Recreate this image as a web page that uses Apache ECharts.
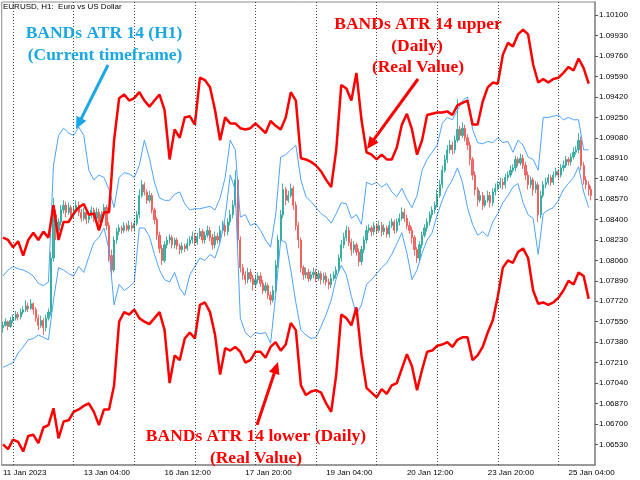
<!DOCTYPE html>
<html><head><meta charset="utf-8">
<script src="https://cdn.jsdelivr.net/npm/echarts@6/dist/echarts.min.js"></script>
<style>html,body{margin:0;padding:0;background:#fff}#c{width:640px;height:480px}</style>
</head><body><div id="c"></div>
<script>
// ---- time axis ----
const tradingDays = ['11 Jan','12 Jan','13 Jan','16 Jan','17 Jan','18 Jan','19 Jan','20 Jan','23 Jan','24 Jan','25 Jan'];
const firstHour = 20;
const barCount = 235;
const xTickLabels = ['11 Jan 2023','13 Jan 04:00','16 Jan 12:00','17 Jan 20:00','19 Jan 04:00','20 Jan 12:00','23 Jan 20:00','25 Jan 04:00'];
const xTickEvery = 32;
// ---- price axis ----
const yMin = 1.06358, yMax = 1.10210;
const yTicks = [1.06530,1.06700,1.06870,1.07040,1.07210,1.07380,1.07550,1.07720,1.07890,1.08060,1.08230,1.08400,1.08570,1.08740,1.08910,1.09080,1.09250,1.09420,1.09590,1.09760,1.09930,1.10100];
// ---- H1 candles [open, close, low, high] ----
const candles = [
[1.0750,1.0752,1.0746,1.0755],[1.0752,1.0755,1.0751,1.0758],[1.0755,1.0751,1.0748,1.0756],[1.0751,1.0756,1.0750,1.0759],
[1.0756,1.0758,1.0754,1.0761],[1.0758,1.0761,1.0756,1.0764],[1.0761,1.0759,1.0756,1.0763],[1.0759,1.0763,1.0757,1.0766],
[1.0763,1.0765,1.0761,1.0768],[1.0765,1.0768,1.0763,1.0773],[1.0768,1.0766,1.0763,1.0771],[1.0766,1.0770,1.0765,1.0774],
[1.0770,1.0765,1.0761,1.0771],[1.0765,1.0758,1.0755,1.0767],[1.0758,1.0752,1.0748,1.0761],[1.0752,1.0756,1.0750,1.0760],
[1.0756,1.0750,1.0744,1.0758],[1.0750,1.0758,1.0747,1.0761],[1.0758,1.0763,1.0756,1.0766],[1.0763,1.0808,1.0760,1.0813],
[1.0808,1.0844,1.0805,1.0858],[1.0844,1.0831,1.0823,1.0848],[1.0831,1.0838,1.0827,1.0841],[1.0838,1.0848,1.0835,1.0852],
[1.0848,1.0852,1.0845,1.0856],[1.0852,1.0846,1.0842,1.0855],[1.0846,1.0850,1.0844,1.0854],[1.0850,1.0844,1.0840,1.0852],
[1.0844,1.0848,1.0841,1.0851],[1.0848,1.0852,1.0845,1.0856],[1.0852,1.0846,1.0843,1.0855],[1.0846,1.0841,1.0838,1.0849],
[1.0841,1.0846,1.0839,1.0850],[1.0846,1.0840,1.0836,1.0849],[1.0840,1.0844,1.0837,1.0847],[1.0844,1.0848,1.0841,1.0851],
[1.0848,1.0841,1.0838,1.0850],[1.0841,1.0846,1.0839,1.0850],[1.0846,1.0838,1.0835,1.0849],[1.0838,1.0844,1.0835,1.0847],
[1.0844,1.0850,1.0841,1.0853],[1.0850,1.0835,1.0831,1.0852],[1.0835,1.0810,1.0805,1.0838],[1.0810,1.0798,1.0792,1.0815],
[1.0798,1.0823,1.0796,1.0826],[1.0823,1.0830,1.0820,1.0833],[1.0830,1.0833,1.0827,1.0836],[1.0833,1.0831,1.0828,1.0835],
[1.0831,1.0835,1.0829,1.0838],[1.0835,1.0832,1.0830,1.0837],[1.0832,1.0835,1.0830,1.0839],[1.0835,1.0833,1.0830,1.0838],
[1.0833,1.0837,1.0830,1.0840],[1.0837,1.0844,1.0835,1.0847],[1.0844,1.0860,1.0841,1.0865],[1.0860,1.0869,1.0858,1.0873],
[1.0869,1.0863,1.0860,1.0871],[1.0863,1.0856,1.0853,1.0865],[1.0856,1.0860,1.0854,1.0864],[1.0860,1.0848,1.0845,1.0862],
[1.0848,1.0840,1.0836,1.0850],[1.0840,1.0827,1.0823,1.0842],[1.0827,1.0816,1.0812,1.0830],[1.0816,1.0806,1.0802,1.0819],
[1.0806,1.0819,1.0804,1.0822],[1.0819,1.0823,1.0816,1.0826],[1.0823,1.0825,1.0820,1.0828],[1.0825,1.0819,1.0816,1.0827],
[1.0819,1.0823,1.0816,1.0825],[1.0823,1.0818,1.0815,1.0825],[1.0818,1.0815,1.0811,1.0820],[1.0815,1.0818,1.0812,1.0821],
[1.0818,1.0816,1.0813,1.0820],[1.0816,1.0820,1.0814,1.0824],[1.0820,1.0823,1.0818,1.0826],[1.0823,1.0826,1.0820,1.0830],
[1.0826,1.0821,1.0818,1.0829],[1.0821,1.0826,1.0819,1.0829],[1.0826,1.0830,1.0824,1.0833],[1.0830,1.0823,1.0820,1.0832],
[1.0823,1.0827,1.0820,1.0830],[1.0827,1.0831,1.0825,1.0835],[1.0831,1.0825,1.0822,1.0834],[1.0825,1.0819,1.0815,1.0828],
[1.0819,1.0826,1.0816,1.0830],[1.0826,1.0823,1.0820,1.0829],[1.0823,1.0831,1.0820,1.0835],[1.0831,1.0835,1.0829,1.0839],
[1.0835,1.0830,1.0826,1.0838],[1.0830,1.0838,1.0827,1.0841],[1.0838,1.0844,1.0835,1.0848],[1.0844,1.0852,1.0841,1.0856],
[1.0852,1.0873,1.0850,1.0881],[1.0873,1.0823,1.0819,1.0875],[1.0823,1.0800,1.0796,1.0826],[1.0800,1.0794,1.0790,1.0803],
[1.0794,1.0790,1.0786,1.0797],[1.0790,1.0796,1.0787,1.0800],[1.0796,1.0791,1.0788,1.0799],[1.0791,1.0786,1.0781,1.0794],
[1.0786,1.0790,1.0783,1.0793],[1.0790,1.0793,1.0787,1.0796],[1.0793,1.0787,1.0784,1.0796],[1.0787,1.0781,1.0778,1.0790],
[1.0781,1.0785,1.0779,1.0788],[1.0785,1.0777,1.0774,1.0787],[1.0777,1.0773,1.0769,1.0780],[1.0773,1.0781,1.0771,1.0785],
[1.0781,1.0802,1.0779,1.0806],[1.0802,1.0823,1.0800,1.0827],[1.0823,1.0844,1.0820,1.0848],[1.0844,1.0865,1.0841,1.0870],
[1.0865,1.0856,1.0852,1.0867],[1.0856,1.0860,1.0854,1.0864],[1.0860,1.0866,1.0858,1.0870],[1.0866,1.0852,1.0848,1.0868],
[1.0852,1.0835,1.0831,1.0855],[1.0835,1.0823,1.0816,1.0838],[1.0823,1.0800,1.0796,1.0825],[1.0800,1.0794,1.0790,1.0802],
[1.0794,1.0796,1.0791,1.0800],[1.0796,1.0791,1.0788,1.0799],[1.0791,1.0794,1.0789,1.0797],[1.0794,1.0796,1.0791,1.0800],
[1.0796,1.0791,1.0788,1.0799],[1.0791,1.0795,1.0789,1.0798],[1.0795,1.0790,1.0786,1.0797],[1.0790,1.0793,1.0787,1.0796],
[1.0793,1.0788,1.0785,1.0796],[1.0788,1.0786,1.0782,1.0791],[1.0786,1.0791,1.0783,1.0795],[1.0791,1.0794,1.0789,1.0797],
[1.0794,1.0798,1.0791,1.0801],[1.0798,1.0808,1.0796,1.0811],[1.0808,1.0819,1.0805,1.0823],[1.0819,1.0825,1.0816,1.0829],
[1.0825,1.0831,1.0822,1.0835],[1.0831,1.0821,1.0818,1.0834],[1.0821,1.0815,1.0810,1.0824],[1.0815,1.0819,1.0812,1.0822],
[1.0819,1.0813,1.0810,1.0821],[1.0813,1.0805,1.0801,1.0816],[1.0805,1.0815,1.0802,1.0818],[1.0815,1.0823,1.0812,1.0826],
[1.0823,1.0831,1.0820,1.0835],[1.0831,1.0833,1.0829,1.0836],[1.0833,1.0830,1.0826,1.0835],[1.0830,1.0835,1.0827,1.0838],
[1.0835,1.0831,1.0828,1.0837],[1.0831,1.0835,1.0829,1.0839],[1.0835,1.0830,1.0826,1.0838],[1.0830,1.0833,1.0827,1.0836],
[1.0833,1.0828,1.0825,1.0835],[1.0828,1.0835,1.0825,1.0839],[1.0835,1.0838,1.0833,1.0841],[1.0838,1.0831,1.0828,1.0840],
[1.0831,1.0838,1.0829,1.0841],[1.0838,1.0841,1.0835,1.0845],[1.0841,1.0846,1.0839,1.0850],[1.0846,1.0841,1.0838,1.0849],
[1.0841,1.0835,1.0832,1.0844],[1.0835,1.0831,1.0828,1.0838],[1.0831,1.0825,1.0820,1.0834],[1.0825,1.0815,1.0810,1.0827],
[1.0815,1.0808,1.0804,1.0817],[1.0808,1.0819,1.0805,1.0822],[1.0819,1.0827,1.0816,1.0830],[1.0827,1.0833,1.0825,1.0836],
[1.0833,1.0838,1.0830,1.0841],[1.0838,1.0844,1.0835,1.0847],[1.0844,1.0848,1.0841,1.0851],[1.0848,1.0852,1.0845,1.0855],
[1.0852,1.0860,1.0850,1.0865],[1.0860,1.0869,1.0858,1.0873],[1.0869,1.0881,1.0866,1.0885],[1.0881,1.0890,1.0879,1.0894],
[1.0890,1.0898,1.0887,1.0902],[1.0898,1.0902,1.0895,1.0906],[1.0902,1.0898,1.0894,1.0905],[1.0898,1.0906,1.0895,1.0910],
[1.0906,1.0915,1.0904,1.0940],[1.0915,1.0910,1.0906,1.0918],[1.0910,1.0916,1.0908,1.0921],[1.0916,1.0908,1.0905,1.0919],
[1.0908,1.0902,1.0898,1.0911],[1.0902,1.0890,1.0885,1.0905],[1.0890,1.0877,1.0873,1.0892],[1.0877,1.0865,1.0860,1.0880],
[1.0865,1.0856,1.0851,1.0867],[1.0856,1.0860,1.0854,1.0864],[1.0860,1.0852,1.0848,1.0863],[1.0852,1.0856,1.0850,1.0860],
[1.0856,1.0860,1.0854,1.0864],[1.0860,1.0854,1.0850,1.0863],[1.0854,1.0863,1.0851,1.0866],[1.0863,1.0866,1.0860,1.0870],
[1.0866,1.0869,1.0864,1.0872],[1.0869,1.0871,1.0866,1.0875],[1.0871,1.0869,1.0865,1.0874],[1.0869,1.0875,1.0866,1.0878],
[1.0875,1.0877,1.0872,1.0880],[1.0877,1.0881,1.0875,1.0885],[1.0881,1.0883,1.0879,1.0886],[1.0883,1.0890,1.0880,1.0893],
[1.0890,1.0887,1.0884,1.0892],[1.0887,1.0891,1.0885,1.0895],[1.0891,1.0885,1.0882,1.0894],[1.0885,1.0877,1.0873,1.0888],
[1.0877,1.0869,1.0865,1.0880],[1.0869,1.0873,1.0866,1.0876],[1.0873,1.0865,1.0860,1.0875],[1.0865,1.0869,1.0862,1.0872],
[1.0869,1.0844,1.0838,1.0871],[1.0844,1.0860,1.0841,1.0864],[1.0860,1.0869,1.0858,1.0872],[1.0869,1.0871,1.0866,1.0875],
[1.0871,1.0875,1.0869,1.0878],[1.0875,1.0871,1.0868,1.0877],[1.0871,1.0877,1.0869,1.0880],[1.0877,1.0880,1.0875,1.0883],
[1.0880,1.0877,1.0874,1.0882],[1.0877,1.0883,1.0875,1.0886],[1.0883,1.0885,1.0880,1.0889],[1.0885,1.0890,1.0883,1.0893],
[1.0890,1.0888,1.0885,1.0892],[1.0888,1.0892,1.0885,1.0895],[1.0892,1.0896,1.0890,1.0900],[1.0896,1.0898,1.0894,1.0901],
[1.0898,1.0906,1.0895,1.0912],[1.0906,1.0885,1.0881,1.0909],[1.0885,1.0873,1.0869,1.0888],[1.0873,1.0869,1.0865,1.0876],
[1.0869,1.0865,1.0860,1.0872],[1.0865,1.0860,1.0856,1.0868]
];
// ---- indicator lines, one value every 2 bars ----
const lineStep = 2;
const redUpper = [1.0825,1.0823,1.0817,1.0822,1.0810,1.0823,1.0829,1.0823,1.0830,1.0825,
1.0852,1.0823,1.0838,1.0838,1.0845,1.0850,1.0853,1.0844,1.0845,1.0831,
1.0846,1.0846,1.0906,1.0941,1.0944,1.0939,1.0941,1.0946,1.0939,1.0934,
1.0939,1.0944,1.0931,1.0890,1.0915,1.0908,1.0925,1.0926,1.0919,1.0958,
1.0956,1.0950,1.0931,1.0906,1.0925,1.0920,1.0920,1.0916,1.0915,1.0916,
1.0920,1.0916,1.0912,1.0922,1.0918,1.0915,1.0925,1.0946,1.0939,1.0891,
1.0890,1.0888,1.0885,1.0880,1.0873,1.0867,1.0898,1.0952,1.0949,1.0939,
1.0962,1.0923,1.0896,1.0894,1.0890,1.0894,1.0890,1.0890,1.0900,1.0919,
1.0928,1.0915,1.0894,1.0906,1.0927,1.0928,1.0929,1.0929,1.0930,1.0927,
1.0935,1.0937,1.0939,1.0919,1.0919,1.0938,1.0950,1.0954,1.0953,1.0977,
1.0987,1.0984,1.0994,1.0998,1.0994,1.0969,1.0954,1.0957,1.0954,1.0957,
1.0958,1.0962,1.0967,1.0964,1.0974,1.0966,1.0953];
const redLower = [1.0653,1.0649,1.0657,1.0655,1.0647,1.0660,1.0661,1.0654,1.0667,1.0669,
1.0683,1.0658,1.0672,1.0673,1.0680,1.0682,1.0685,1.0687,1.0680,1.0669,
1.0682,1.0682,1.0702,1.0755,1.0763,1.0761,1.0765,1.0758,1.0755,1.0753,
1.0758,1.0763,1.0748,1.0704,1.0727,1.0723,1.0741,1.0746,1.0741,1.0769,
1.0771,1.0763,1.0744,1.0711,1.0733,1.0731,1.0734,1.0730,1.0721,1.0723,
1.0730,1.0730,1.0725,1.0734,1.0738,1.0731,1.0736,1.0754,1.0748,1.0702,
1.0694,1.0697,1.0698,1.0696,1.0687,1.0680,1.0711,1.0761,1.0758,1.0752,
1.0767,1.0727,1.0700,1.0696,1.0692,1.0699,1.0695,1.0702,1.0704,1.0716,
1.0728,1.0718,1.0698,1.0715,1.0730,1.0731,1.0735,1.0736,1.0738,1.0734,
1.0740,1.0742,1.0742,1.0723,1.0727,1.0734,1.0746,1.0756,1.0776,1.0800,
1.0806,1.0804,1.0813,1.0816,1.0808,1.0781,1.0770,1.0771,1.0769,1.0771,
1.0775,1.0781,1.0789,1.0786,1.0796,1.0793,1.0774];
const blueUpper = [1.0793,1.0798,1.0801,1.0799,1.0798,1.0796,1.0793,1.0787,1.0785,1.0788,
1.0885,1.0910,1.0916,1.0912,1.0910,1.0917,1.0910,1.0881,1.0873,1.0877,
1.0875,1.0865,1.0850,1.0875,1.0879,1.0878,1.0875,1.0885,1.0906,1.0891,
1.0871,1.0858,1.0856,1.0856,1.0861,1.0863,1.0853,1.0848,1.0849,1.0849,
1.0850,1.0851,1.0848,1.0858,1.0875,1.0906,1.0898,1.0842,1.0844,1.0835,
1.0837,1.0831,1.0823,1.0817,1.0844,1.0892,1.0894,1.0898,1.0902,1.0873,
1.0859,1.0855,1.0850,1.0845,1.0842,1.0837,1.0845,1.0854,1.0853,1.0841,
1.0844,1.0836,1.0871,1.0869,1.0871,1.0867,1.0870,1.0863,1.0859,1.0866,
1.0857,1.0850,1.0860,1.0881,1.0890,1.0896,1.0902,1.0920,1.0925,1.0923,
1.0931,1.0939,1.0942,1.0915,1.0904,1.0903,1.0905,1.0904,1.0908,1.0904,
1.0905,1.0896,1.0906,1.0902,1.0892,1.0890,1.0881,1.0925,1.0925,1.0926,
1.0927,1.0923,1.0925,1.0923,1.0923,1.0898,1.0898];
const blueLower = [1.0717,1.0719,1.0721,1.0729,1.0734,1.0740,1.0741,1.0744,1.0742,1.0740,
1.0773,1.0800,1.0798,1.0795,1.0793,1.0801,1.0796,1.0809,1.0821,1.0825,
1.0833,1.0815,1.0769,1.0786,1.0781,1.0784,1.0788,1.0833,1.0833,1.0826,
1.0811,1.0798,1.0790,1.0788,1.0796,1.0783,1.0777,1.0794,1.0801,1.0808,
1.0806,1.0811,1.0808,1.0821,1.0842,1.0877,1.0865,1.0758,1.0746,1.0742,
1.0746,1.0745,1.0746,1.0737,1.0777,1.0823,1.0821,1.0798,1.0771,1.0748,
1.0744,1.0741,1.0742,1.0751,1.0761,1.0773,1.0791,1.0802,1.0794,1.0776,
1.0761,1.0769,1.0786,1.0790,1.0795,1.0800,1.0804,1.0811,1.0820,1.0829,
1.0812,1.0790,1.0798,1.0812,1.0823,1.0829,1.0844,1.0856,1.0866,1.0873,
1.0883,1.0871,1.0850,1.0836,1.0827,1.0830,1.0826,1.0838,1.0845,1.0854,
1.0860,1.0867,1.0870,1.0854,1.0844,1.0841,1.0811,1.0845,1.0848,1.0850,
1.0856,1.0865,1.0870,1.0875,1.0884,1.0863,1.0850];

// ---- build ----
const categories = [];
tradingDays.forEach((d, di) => {
  for (let h = di === 0 ? firstHour : 0; h < 24 && categories.length < barCount; h++) {
    categories.push(d + ' ' + String(h).padStart(2, '0') + ':00');
  }
});
const separators = categories.filter(c => c.endsWith(' 00:00'));
const toLine = arr => arr.map((v, k) => [k * lineStep, v]);

const BLUE_TXT = '#1aa7e4', RED = '#ff0000';
function arrow(x1, y1, x2, y2, color) {
  const dx = x2 - x1, dy = y2 - y1, L = Math.hypot(dx, dy), ux = dx / L, uy = dy / L;
  const hl = 12, hw = 5.5, bx = x2 - ux * hl, by = y2 - uy * hl;
  return [
    {type: 'line', z: 100, shape: {x1, y1, x2: bx + ux * 2, y2: by + uy * 2}, style: {stroke: color, lineWidth: 3}},
    {type: 'polygon', z: 100, shape: {points: [[x2, y2], [bx - uy * hw, by + ux * hw], [bx + uy * hw, by - ux * hw]]}, style: {fill: color}}
  ];
}
function label(text, x, y, color) {
  return {type: 'text', z: 100, x, y, style: {text, fill: color, font: 'bold 17.5px "Liberation Serif", "Times New Roman", serif', align: 'center', verticalAlign: 'middle'}};
}

const chart = echarts.init(document.getElementById('c'));
chart.setOption({
  animation: false,
  backgroundColor: '#ffffff',
  grid: {left: 1, right: 45, top: 2, bottom: 15, show: true, borderColor: '#8c8c8c', borderWidth: 1},
  xAxis: {
    type: 'category', data: categories, boundaryGap: true,
    axisLine: {lineStyle: {color: '#8c8c8c', width: 1.5}},
    axisTick: {interval: i => i % xTickEvery === 0, alignWithLabel: true, length: 4, lineStyle: {color: '#555'}},
    axisLabel: {interval: i => i % xTickEvery === 0, formatter: (v, i) => xTickLabels[i / xTickEvery] || '',
      align: 'left', color: '#000', fontSize: 8, fontFamily: 'Liberation Sans', margin: 4},
    splitLine: {show: false}
  },
  yAxis: {
    type: 'value', position: 'right', min: yMin, max: yMax, scale: true,
    axisLine: {show: true, lineStyle: {color: '#8c8c8c', width: 1.5}},
    axisTick: {show: true, customValues: yTicks, length: 3, lineStyle: {color: '#555'}},
    axisLabel: {customValues: yTicks, formatter: v => v.toFixed(5), color: '#000', fontSize: 8, fontFamily: 'Liberation Sans', margin: 4},
    splitLine: {show: false}
  },
  series: [
    {type: 'candlestick', data: candles, barWidth: 1.7,
      itemStyle: {color: '#26a69a', color0: '#ef5350', borderColor: '#26a69a', borderColor0: '#ef5350', borderWidth: 1, opacity: 0.85},
      markLine: {silent: true, symbol: ['none', 'none'], label: {show: false}, animation: false,
        lineStyle: {color: '#444', type: [1, 2], width: 1}, emphasis: {disabled: true},
        data: separators.map(s => ({xAxis: s}))}},
    {type: 'line', data: toLine(blueUpper), showSymbol: false, lineStyle: {color: '#4da3ff', width: 1}},
    {type: 'line', data: toLine(blueLower), showSymbol: false, lineStyle: {color: '#4da3ff', width: 1}},
    {type: 'line', data: toLine(redUpper), showSymbol: false, lineStyle: {color: RED, width: 2.5}},
    {type: 'line', data: toLine(redLower), showSymbol: false, lineStyle: {color: RED, width: 2.5}}
  ],
  graphic: [
    {type: 'text', z: 100, x: 3, y: 7, style: {text: 'EURUSD, H1:  Euro vs US Dollar', fill: '#000', font: '8px "Liberation Sans"', align: 'left', verticalAlign: 'middle'}},
    label('BANDs ATR 14 (H1)', 104, 33, BLUE_TXT),
    label('(Current timeframe)', 105, 55, BLUE_TXT),
    label('BANDs ATR 14 upper', 418, 24, RED),
    label('(Daily)', 417, 46, RED),
    label('(Real Value)', 418, 67, RED),
    label('BANDs ATR 14 lower (Daily)', 256, 436, RED),
    label('(Real Value)', 256, 458, RED),
    ...arrow(108, 65, 76, 129, BLUE_TXT),
    ...arrow(418, 79, 367, 149, RED),
    ...arrow(257, 425, 278, 362, RED)
  ]
});
</script></body></html>
